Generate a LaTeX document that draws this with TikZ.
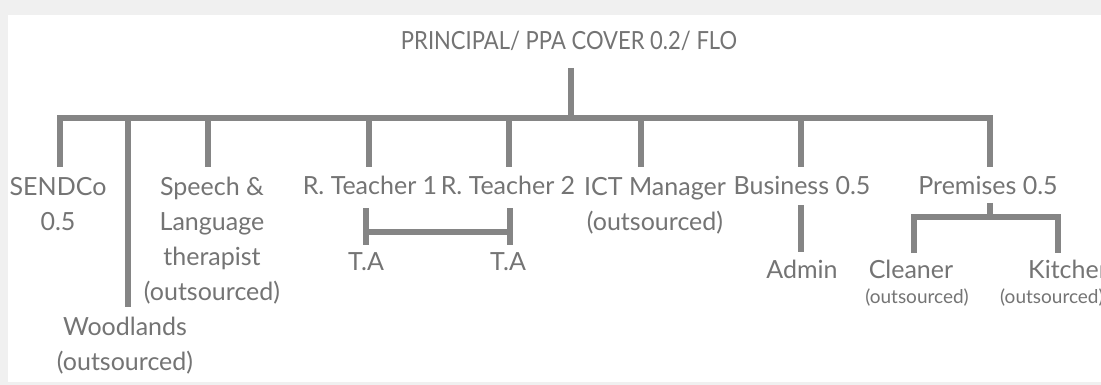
\documentclass[tikz,border=0pt]{standalone}
\usepackage{fontspec}
\setmainfont{Lato}
\definecolor{linegray}{HTML}{858585}
\definecolor{textgray}{HTML}{747474}
\definecolor{bggray}{HTML}{F0F0F0}
\tikzset{
  lbl/.style={anchor=base, inner sep=0pt, align=center, text=textgray,
    font=\fontsize{25}{35}\selectfont},
  smalllbl/.style={anchor=base, inner sep=0pt, align=center, text=textgray,
    font=\fontsize{19}{24}\selectfont},
  titlelbl/.style={anchor=base, inner sep=0pt, text=textgray,
    font=\fontsize{25}{28}\selectfont},
  connb/.style={draw=linegray, line width=6pt, line join=miter}
}
\begin{document}
\begin{tikzpicture}[x=1pt, y=-1pt]
\useasboundingbox (0,0) rectangle (1101,385);
\fill[bggray] (0,0) rectangle (1101,385);
\fill[white] (8,15) rectangle (1101,382);
\begin{scope}
\clip (0,0) rectangle (1101,385);
% nodes (base anchor = baseline of last line)
\node[titlelbl] (title) at (569,50) {\scalebox{0.88}[1]{PRINCIPAL/ PPA COVER 0.2/ FLO}};
\node[lbl] (sendco) at (58,230) {SENDCo\\0.5};
\node[lbl] (wood) at (125,370) {Woodlands\\(outsourced)};
\node[lbl] (speech) at (212,300) {Speech \&\\Language\\therapist\\(outsourced)};
\node[lbl] (rt1) at (370,195) {R. Teacher 1};
\node[lbl] (rt2) at (508,195) {R. Teacher 2};
\node[lbl] (ict) at (655,230) {ICT Manager\\(outsourced)};
\node[lbl] (bus) at (802,195) {Business 0.5};
\node[lbl] (prem) at (988,195) {Premises 0.5};
\node[lbl] (ta1) at (366,270) {T.A};
\node[lbl] (ta2) at (508,270) {T.A};
\node[lbl] (admin) at (802,278) {Admin};
\node[lbl] (clean) at (911,278) {Cleaner};
\node[smalllbl] (cleanout) at (917,303) {(outsourced)};
\node[lbl, anchor=base west] (kitch) at (1028,278) {Kitchen};
\node[smalllbl, anchor=base west] (kitchout) at (1000,303) {(outsourced)};
% coordinates
\coordinate (topv) at (571,68);
\coordinate (barc) at (571,118);
\coordinate (sendcoT) at (60,167);
\coordinate (woodT) at (128,307);
\coordinate (speechT) at (208,167);
\coordinate (rt1T) at (369,167);
\coordinate (rt2T) at (509,167);
\coordinate (ictT) at (641,167);
\coordinate (busT) at (801,167);
\coordinate (premT) at (990,167);
\coordinate (ta1T) at (366,245);
\coordinate (ta2T) at (510,245);
\coordinate (rt1B) at (366,208);
\coordinate (rt2B) at (510,208);
\coordinate (busB) at (801,205);
\coordinate (adminT) at (801,252);
\coordinate (premB) at (990,203);
\coordinate (premJ) at (990,217);
\coordinate (cleanT) at (914,253);
\coordinate (kitchT) at (1058,253);
% connectors
\draw[connb] (topv) -- (barc);
\draw[connb] (sendcoT) |- (barc) -| (premT);
\draw[connb] (woodT |- barc) -- (woodT);
\draw[connb] (speechT |- barc) -- (speechT);
\draw[connb] (rt1T |- barc) -- (rt1T);
\draw[connb] (rt2T |- barc) -- (rt2T);
\draw[connb] (ictT |- barc) -- (ictT);
\draw[connb] (busT |- barc) -- (busT);
\draw[connb] (rt1B) -- (ta1T);
\draw[connb] (rt2B) -- (ta2T);
\draw[connb] (ta1T |- 0,232) -- (ta2T |- 0,232);
\draw[connb] (busB) -- (adminT);
\draw[connb] (premB) -- (premJ);
\draw[connb] (cleanT) |- (premJ) -| (kitchT);
\end{scope}
\end{tikzpicture}
\end{document}
